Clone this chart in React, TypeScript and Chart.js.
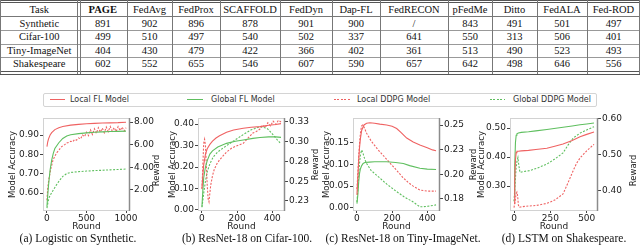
import React, { useEffect, useRef } from 'react';
import { Chart, registerables } from 'chart.js';
Chart.register(...registerables);

// ---------- table ----------
const tableHeaders = ['Task', 'PAGE', 'FedAvg', 'FedProx', 'SCAFFOLD', 'FedDyn', 'Dap-FL', 'FedRECON', 'pFedMe', 'Ditto', 'FedALA', 'Fed-ROD'];
const tableRows = [
  ['Synthetic', '891', '902', '896', '878', '901', '900', '/', '843', '491', '501', '497'],
  ['Cifar-100', '499', '510', '497', '540', '502', '337', '641', '550', '313', '506', '401'],
  ['Tiny-ImageNet', '404', '430', '479', '422', '366', '402', '361', '513', '490', '523', '493'],
  ['Shakespeare', '602', '552', '655', '546', '607', '590', '657', '642', '498', '646', '556'],
];

// ---------- legend ----------
const legendLabels = ['Local FL Model', 'Global FL Model', 'Local DDPG Model', 'Global DDPG Model'];
const captions = ['(a) Logistic on Synthetic.', '(b) ResNet-18 on Cifar-100.', '(c) ResNet-18 on Tiny-ImageNet.', '(d) LSTM on Shakespeare.'];

// ---------- (a) Logistic on Synthetic ----------
const synXTicks = [0, 500, 1000];
const synAccTicks = [0.6, 0.7, 0.8, 0.9];
const synRewardTicks = [2, 4, 6, 8];
const synLocalFLRounds = [0, 10, 20, 40, 60, 100, 150, 200, 300, 400, 500, 600, 700, 800, 900, 1000];
const synLocalFL = [0.84, 0.865, 0.88, 0.9, 0.912, 0.928, 0.938, 0.944, 0.951, 0.955, 0.958, 0.96, 0.962, 0.963, 0.964, 0.966];
const synGlobalFLRounds = [0, 10, 20, 40, 60, 80, 100, 150, 200, 250, 300, 400, 500, 600, 700, 800, 900, 1000];
const synGlobalFL = [0.53, 0.59, 0.64, 0.72, 0.77, 0.805, 0.83, 0.86, 0.882, 0.895, 0.901, 0.907, 0.911, 0.914, 0.916, 0.918, 0.919, 0.92];
const synLocalDDPGRounds = [0, 10, 25, 50, 75, 100, 125, 150, 175, 200, 225, 250, 275, 300, 325, 350, 375, 400, 425, 450, 475, 500, 525, 550, 575, 600, 625, 650, 675, 700, 725, 750, 775, 800, 825, 850, 875, 900, 925, 950, 975, 1000];
const synLocalDDPG = [1.1, 2.2, 3.0, 3.9, 4.6, 5.0, 5.3, 5.5, 5.75, 5.9, 6.0, 6.15, 6.2, 6.3, 6.25, 6.45, 6.4, 6.6, 6.5, 6.85, 6.7, 7.1, 6.8, 7.3, 6.9, 7.4, 7.0, 7.5, 7.1, 7.45, 7.05, 7.55, 7.15, 7.6, 7.2, 7.5, 7.15, 7.6, 7.25, 7.55, 7.2, 7.5];
const synGlobalDDPGRounds = [0, 10, 25, 50, 80, 120, 160, 200, 250, 300, 400, 500, 600, 700, 800, 900, 1000];
const synGlobalDDPG = [0.4, 0.8, 1.3, 1.65, 2.0, 2.45, 2.85, 3.2, 3.45, 3.55, 3.62, 3.67, 3.71, 3.74, 3.78, 3.81, 3.85];

// ---------- (b) ResNet-18 on Cifar-100 ----------
const cifXTicks = [0, 200, 400];
const cifAccTicks = [0, 0.1, 0.2, 0.3, 0.4];
const cifRewardTicks = [0.225, 0.25, 0.275, 0.3, 0.325];
const cifLocalFLRounds = [0, 5, 10, 20, 30, 45, 60, 80, 100, 140, 180, 235, 280, 330, 380, 420, 450];
const cifLocalFL = [0.1, 0.16, 0.21, 0.26, 0.285, 0.305, 0.32, 0.335, 0.345, 0.362, 0.372, 0.38, 0.385, 0.388, 0.394, 0.398, 0.402];
const cifGlobalFLRounds = [0, 5, 10, 20, 30, 45, 60, 90, 140, 190, 235, 290, 330, 380, 420, 450];
const cifGlobalFL = [0.015, 0.09, 0.15, 0.2, 0.23, 0.26, 0.275, 0.293, 0.31, 0.32, 0.326, 0.333, 0.337, 0.34, 0.34, 0.338];
const cifLocalDDPGRounds = [0, 5, 10, 15, 20, 25, 30, 35, 40, 45, 50, 60, 70, 85, 100, 120, 140, 170, 200, 235, 260, 290, 310, 330, 345, 360, 375, 390, 405, 420, 435, 450];
const cifLocalDDPG = [0.24, 0.27, 0.298, 0.303, 0.295, 0.27, 0.245, 0.228, 0.224, 0.235, 0.245, 0.257, 0.265, 0.272, 0.277, 0.282, 0.287, 0.292, 0.295, 0.298, 0.304, 0.311, 0.313, 0.316, 0.321, 0.318, 0.324, 0.32, 0.326, 0.322, 0.327, 0.325];
const cifGlobalDDPGRounds = [0, 10, 20, 30, 45, 65, 90, 120, 140, 180, 235, 280, 330, 370, 400, 430, 450];
const cifGlobalDDPG = [0.217, 0.235, 0.25, 0.262, 0.272, 0.281, 0.287, 0.292, 0.295, 0.301, 0.309, 0.315, 0.319, 0.317, 0.31, 0.302, 0.297];

// ---------- (c) ResNet-18 on Tiny-ImageNet ----------
const tinXTicks = [0, 200, 400];
const tinAccTicks = [0, 0.05, 0.1, 0.15];
const tinRewardTicks = [0.175, 0.2, 0.225, 0.25];
const tinLocalFLRounds = [0, 5, 10, 15, 20, 27, 40, 55, 74, 100, 130, 169, 200, 226, 250, 283, 320, 358, 400, 430, 450];
const tinLocalFL = [0.03, 0.07, 0.11, 0.14, 0.16, 0.178, 0.19, 0.194, 0.195, 0.194, 0.192, 0.19, 0.187, 0.182, 0.173, 0.16, 0.151, 0.144, 0.138, 0.133, 0.131];
const tinGlobalFLRounds = [0, 5, 10, 15, 20, 27, 35, 45, 70, 100, 169, 220, 264, 300, 358, 400, 450];
const tinGlobalFL = [0.01, 0.03, 0.06, 0.08, 0.09, 0.097, 0.102, 0.104, 0.105, 0.106, 0.106, 0.104, 0.102, 0.097, 0.091, 0.089, 0.088];
const tinLocalDDPGRounds = [0, 5, 10, 15, 20, 26, 32, 40, 55, 80, 121, 160, 200, 226, 260, 290, 320, 358, 400, 430, 450];
const tinLocalDDPG = [0.185, 0.2, 0.218, 0.232, 0.242, 0.249, 0.25, 0.248, 0.2416, 0.234, 0.2247, 0.217, 0.209, 0.204, 0.197, 0.192, 0.188, 0.184, 0.183, 0.183, 0.183];
const tinGlobalDDPGRounds = [0, 5, 10, 15, 20, 27, 35, 45, 55, 80, 121, 170, 226, 270, 320, 358, 400, 450];
const tinGlobalDDPG = [0.172, 0.185, 0.2, 0.212, 0.22, 0.2247, 0.221, 0.215, 0.211, 0.204, 0.1976, 0.19, 0.1824, 0.177, 0.172, 0.167, 0.1675, 0.169];

// ---------- (d) LSTM on Shakespeare ----------
const shaXTicks = [0, 250, 500];
const shaAccTicks = [0.3, 0.4, 0.5];
const shaRewardTicks = [0.4, 0.5, 0.6];
const shaLocalFLRounds = [0, 5, 10, 15, 20, 30, 50, 100, 150, 226, 280, 337, 400, 454, 500, 550];
const shaLocalFL = [0.24, 0.32, 0.39, 0.415, 0.42, 0.42, 0.421, 0.423, 0.426, 0.43, 0.437, 0.445, 0.457, 0.47, 0.478, 0.486];
const shaGlobalFLRounds = [0, 5, 10, 15, 20, 30, 50, 100, 150, 226, 300, 400, 454, 500, 550];
const shaGlobalFL = [0.27, 0.37, 0.45, 0.475, 0.48, 0.483, 0.485, 0.487, 0.49, 0.495, 0.5, 0.507, 0.511, 0.514, 0.517];
const shaLocalDDPGRounds = [0, 8, 14, 20, 25, 30, 35, 45, 80, 150, 226, 280, 337, 370, 406, 430, 454, 500, 550];
const shaLocalDDPG = [0.352, 0.37, 0.39, 0.395, 0.385, 0.36, 0.353, 0.354, 0.356, 0.358, 0.364, 0.373, 0.39, 0.42, 0.454, 0.475, 0.49, 0.51, 0.528];
const shaGlobalDDPGRounds = [0, 8, 14, 20, 27, 33, 41, 60, 110, 160, 226, 280, 337, 370, 406, 454, 500, 550];
const shaGlobalDDPG = [0.37, 0.42, 0.46, 0.48, 0.491, 0.47, 0.45, 0.452, 0.455, 0.462, 0.473, 0.487, 0.504, 0.525, 0.545, 0.559, 0.568, 0.577];

// ---------- styles ----------
const RED = '#ef6262';
const GREEN = '#5fbf5f';
const AXW = 45;
const SANS = '"DejaVu Sans", sans-serif';
const SERIF = '"Liberation Serif", "DejaVu Serif", serif';

const zip = (xs: number[], ys: number[]) => xs.map((x, i) => ({ x, y: ys[i] }));
const fmt2 = (v: number) => (Math.round(v * 100 + 1e-6) / 100).toFixed(2);

const panels = [
  {
    key: 'a', plotLeft: 43, plotRight: 130, lGap: 30, rGap: 27, rY: 6,
    xTicks: synXTicks, xMin: -50, xMax: 1050,
    yTicks: synAccTicks, yMin: 0.507, yMax: 0.988,
    y1Ticks: synRewardTicks, y1Min: 0.147, y1Max: 8.353,
    series: [
      [synLocalFLRounds, synLocalFL], [synGlobalFLRounds, synGlobalFL],
      [synLocalDDPGRounds, synLocalDDPG], [synGlobalDDPGRounds, synGlobalDDPG],
    ],
  },
  {
    key: 'b', plotLeft: 198, plotRight: 285, lGap: 25, rGap: 31, rY: 0,
    xTicks: cifXTicks, xMin: -22.5, xMax: 472.5,
    yTicks: cifAccTicks, yMin: -0.0047, yMax: 0.428,
    y1Ticks: cifRewardTicks, y1Min: 0.2123, y1Max: 0.330,
    series: [
      [cifLocalFLRounds, cifLocalFL], [cifGlobalFLRounds, cifGlobalFL],
      [cifLocalDDPGRounds, cifLocalDDPG], [cifGlobalDDPGRounds, cifGlobalDDPG],
    ],
  },
  {
    key: 'c', plotLeft: 353, plotRight: 440, lGap: 26, rGap: 34, rY: 0,
    xTicks: tinXTicks, xMin: -22.5, xMax: 472.5,
    yTicks: tinAccTicks, yMin: -0.0069, yMax: 0.206,
    y1Ticks: tinRewardTicks, y1Min: 0.1628, y1Max: 0.2571,
    series: [
      [tinLocalFLRounds, tinLocalFL], [tinGlobalFLRounds, tinGlobalFL],
      [tinLocalDDPGRounds, tinLocalDDPG], [tinGlobalDDPGRounds, tinGlobalDDPG],
    ],
  },
  {
    key: 'd', plotLeft: 510, plotRight: 598, lGap: 28, rGap: 36, rY: 6,
    xTicks: shaXTicks, xMin: -27.5, xMax: 577.5,
    yTicks: shaAccTicks, yMin: 0.2138, yMax: 0.5345,
    y1Ticks: shaRewardTicks, y1Min: 0.3428, y1Max: 0.601,
    series: [
      [shaLocalFLRounds, shaLocalFL], [shaGlobalFLRounds, shaGlobalFL],
      [shaLocalDDPGRounds, shaLocalDDPG], [shaGlobalDDPGRounds, shaGlobalDDPG],
    ],
  },
];

const colEdges = [0, 78.5, 127, 172, 220, 280, 332, 380, 448, 492, 537, 587, 640];
const rowCenters = [9.5, 23.5, 37, 50.5, 64];

function makeChart(canvas: HTMLCanvasElement, p: any) {
  const styles = [
    { color: RED, dash: [] as number[], axis: 'y' },
    { color: GREEN, dash: [] as number[], axis: 'y' },
    { color: RED, dash: [2, 1.5], axis: 'y1' },
    { color: GREEN, dash: [2, 1.5], axis: 'y1' },
  ];
  const datasets = p.series.map((s: any, i: number) => ({
    label: legendLabels[i],
    data: zip(s[0], s[1]),
    yAxisID: styles[i].axis,
    borderColor: styles[i].color,
    borderDash: styles[i].dash,
    borderWidth: 1.1,
    pointRadius: 0,
    tension: 0,
    fill: false,
  }));
  const tickFont = { family: SANS, size: 9 };
  const grid = { drawOnChartArea: false, drawTicks: true, tickLength: 3, tickColor: '#444', color: '#444' };
  const fixY = (s: any) => { s.width = AXW; s.paddingTop = 0; s.paddingBottom = 0; s.paddingLeft = 0; s.paddingRight = 0; };
  const frame = {
    id: 'frame' + p.key,
    afterDraw(chart: any) {
      const { ctx, chartArea: a } = chart;
      ctx.save();
      ctx.strokeStyle = '#d2d2d2';
      ctx.lineWidth = 1;
      ctx.strokeRect(a.left + 0.5, a.top + 0.5, a.right - a.left - 1, a.bottom - a.top - 1);
      ctx.strokeStyle = '#8c8c8c';
      ctx.lineWidth = 1.5;
      ctx.beginPath();
      ctx.moveTo(a.right - 0.5, a.top);
      ctx.lineTo(a.right - 0.5, a.bottom);
      ctx.stroke();
      ctx.fillStyle = '#222';
      ctx.font = '8.5px ' + SANS;
      ctx.textAlign = 'center';
      ctx.textBaseline = 'middle';
      const cy = (a.top + a.bottom) / 2;
      ctx.save();
      ctx.translate(a.left - p.lGap, cy);
      ctx.rotate(-Math.PI / 2);
      ctx.fillText('Model Accuracy', 0, 0);
      ctx.restore();
      ctx.save();
      ctx.translate(a.right + p.rGap, cy + p.rY);
      ctx.rotate(-Math.PI / 2);
      ctx.fillText('Reward', 0, 0);
      ctx.restore();
      ctx.font = '9px ' + SANS;
      ctx.fillText('Round', (a.left + a.right) / 2, a.bottom + 16);
      ctx.restore();
    },
  };
  return new Chart(canvas, {
    type: 'line',
    data: { datasets },
    options: {
      animation: false,
      responsive: false,
      layout: { padding: { top: 10, bottom: 3, left: 0, right: 0 } },
      plugins: { legend: { display: false }, tooltip: { enabled: false } },
      scales: {
        x: {
          type: 'linear', min: p.xMin, max: p.xMax,
          afterBuildTicks: (s: any) => { s.ticks = p.xTicks.map((v: number) => ({ value: v })); },
          ticks: { font: tickFont, color: '#222', padding: 0, maxRotation: 0, autoSkip: false, callback: (v: any) => String(v) },
          grid: { ...grid, tickLength: 2 },
          border: { display: false },
          afterFit: (s: any) => { s.height = 22; s.paddingLeft = 0; s.paddingRight = 0; },
        },
        y: {
          type: 'linear', position: 'left', min: p.yMin, max: p.yMax,
          afterBuildTicks: (s: any) => { s.ticks = p.yTicks.map((v: number) => ({ value: v })); },
          ticks: { font: tickFont, color: '#222', padding: 1, autoSkip: false, callback: (v: any) => fmt2(Number(v)) },
          grid,
          border: { display: false },
          afterFit: fixY,
        },
        y1: {
          type: 'linear', position: 'right', min: p.y1Min, max: p.y1Max,
          afterBuildTicks: (s: any) => { s.ticks = p.y1Ticks.map((v: number) => ({ value: v })); },
          ticks: { font: tickFont, color: '#222', padding: 1, autoSkip: false, callback: (v: any) => fmt2(Number(v)) },
          grid,
          border: { display: false },
          afterFit: fixY,
        },
      },
    } as any,
    plugins: [frame],
  });
}

function Panel({ p }: { p: any }) {
  const ref = useRef<HTMLCanvasElement>(null);
  useEffect(() => {
    const c = makeChart(ref.current as HTMLCanvasElement, p);
    return () => c.destroy();
  }, []);
  const w = p.plotRight - p.plotLeft + 2 * AXW;
  return (
    <canvas
      ref={ref}
      width={w}
      height={128}
      style={{ position: 'absolute', left: p.plotLeft - AXW, top: 108, width: w, height: 128 }}
    />
  );
}

function Table() {
  const els: any[] = [];
  const allRows = [tableHeaders, ...tableRows];
  allRows.forEach((row, r) => {
    row.forEach((txt, c) => {
      els.push(
        <div key={`c${r}-${c}`} style={{
          position: 'absolute', left: colEdges[c], width: colEdges[c + 1] - colEdges[c],
          top: rowCenters[r] - 7, height: 14, lineHeight: '14px', textAlign: 'center',
          fontFamily: SERIF, fontSize: 10.5, color: '#111',
          fontWeight: r === 0 && c === 1 ? 'bold' : 'normal',
        }}>{txt}</div>
      );
    });
  });
  const hLines = [
    { y: 0, c: '#555' }, { y: 2, c: '#555' }, { y: 16, c: '#777' }, { y: 30, c: '#999' },
    { y: 43.5, c: '#999' }, { y: 57, c: '#999' }, { y: 71, c: '#555' }, { y: 73.5, c: '#555' },
  ];
  hLines.forEach((l, i) => els.push(
    <div key={`h${i}`} style={{ position: 'absolute', left: 0, width: 640, top: l.y, height: 1, background: l.c }} />
  ));
  const vLines = [0, 77, 80, 127, 172, 220, 280, 332, 380, 448, 492, 537, 587, 639];
  vLines.forEach((x, i) => els.push(
    <div key={`v${i}`} style={{ position: 'absolute', left: x, top: 0, width: 1, height: 74, background: '#777' }} />
  ));
  return <>{els}</>;
}

function Legend() {
  const items = [
    { x0: 50, x1: 65, tx: 70, color: RED, dashed: false },
    { x0: 187, x1: 203, tx: 211, color: GREEN, dashed: false },
    { x0: 334, x1: 350, tx: 357, color: RED, dashed: true },
    { x0: 490, x1: 505, tx: 513, color: GREEN, dashed: true },
  ];
  return (
    <>
      <div style={{ position: 'absolute', left: 43, top: 93, width: 554, height: 14, boxSizing: 'border-box', border: '1px solid #d4d4d4', borderRadius: 2 }} />
      {items.map((it, i) => (
        <React.Fragment key={i}>
          <div style={{
            position: 'absolute', left: it.x0, top: 99, width: it.x1 - it.x0, height: 1,
            background: it.dashed ? `repeating-linear-gradient(to right, ${it.color} 0px, ${it.color} 2px, transparent 2px, transparent 3.5px)` : it.color,
          }} />
          <div style={{ position: 'absolute', left: it.tx, top: 93, height: 14, lineHeight: '14px', fontFamily: SANS, fontSize: 8, color: '#333', whiteSpace: 'nowrap' }}>
            {legendLabels[i]}
          </div>
        </React.Fragment>
      ))}
    </>
  );
}

const captionCenters = [78, 247, 403, 564];

export default function App() {
  return (
    <div style={{ position: 'fixed', left: 0, top: 0, width: 640, height: 245, background: '#fff', overflow: 'hidden' }}>
      <Table />
      <Legend />
      {panels.map((p) => <Panel key={p.key} p={p} />)}
      {captions.map((t, i) => (
        <div key={i} style={{
          position: 'absolute', left: captionCenters[i] - 100, width: 200, top: 231, height: 14, lineHeight: '14px',
          textAlign: 'center', fontFamily: SERIF, fontSize: 11.5, color: '#111', whiteSpace: 'nowrap',
        }}>{t}</div>
      ))}
    </div>
  );
}
